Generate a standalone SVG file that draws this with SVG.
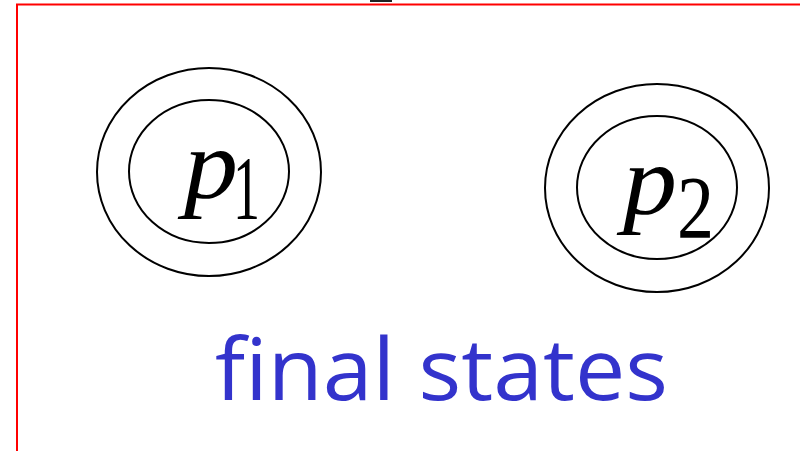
<svg xmlns="http://www.w3.org/2000/svg" width="800" height="451" viewBox="0 0 800 451">
<style>
.ring{fill:none;stroke:#000;stroke-width:2}
.cap{fill:#3333CC}
.lbl{font-family:"Times New Roman","Liberation Serif",serif;fill:#000}
</style>
<rect width="800" height="451" fill="#fff"/>
<path d="M17 451 V4.5 H800" fill="none" stroke="#f00" stroke-width="2"/>
<rect x="370" y="0" width="22" height="2" fill="#222"/>
<g id="connectors"></g>
<g id="p1">
<ellipse class="ring" cx="209" cy="172" rx="112" ry="104"/>
<ellipse class="ring" cx="209" cy="171.5" rx="80" ry="71.5"/>
<text class="lbl" x="184" y="198" font-size="100" font-style="italic" textLength="54" lengthAdjust="spacingAndGlyphs">p</text>
<text class="lbl" x="233" y="219" font-size="92" textLength="27" lengthAdjust="spacingAndGlyphs">1</text>
</g>
<g id="p2">
<ellipse class="ring" cx="657" cy="188" rx="112" ry="104"/>
<ellipse class="ring" cx="657" cy="187.5" rx="80" ry="71.5"/>
<text class="lbl" x="623" y="214" font-size="100" font-style="italic" textLength="54" lengthAdjust="spacingAndGlyphs">p</text>
<text class="lbl" x="677" y="237" font-size="88" textLength="37" lengthAdjust="spacingAndGlyphs">2</text>
</g>
<text class="cap" font-family="Comic Sans MS, Open Sans, sans-serif" x="215" y="400" font-size="86" textLength="453" lengthAdjust="spacingAndGlyphs">final states</text>
</svg>
